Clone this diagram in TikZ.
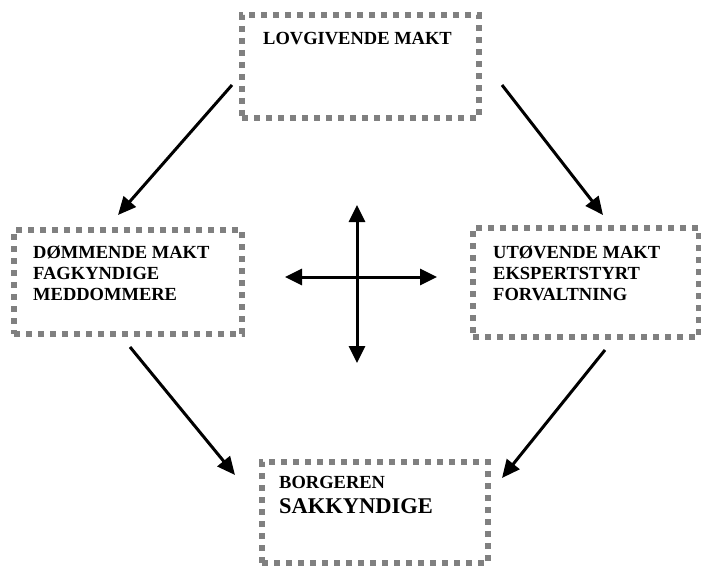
\documentclass[tikz,border=0pt]{standalone}
\usepackage{fontspec}
\setmainfont{Liberation Serif}
\usetikzlibrary{arrows.meta}
\definecolor{dotgray}{RGB}{128,128,128}
\begin{document}
\begin{tikzpicture}[x=1pt,y=-1pt,
  box/.style={draw=dotgray,line width=6pt,dash pattern=on 6pt off 6pt,inner sep=0pt,outer sep=0pt},
  lbl/.style={anchor=base west,inner sep=0pt,font=\bfseries\fontsize{18.5}{21}\selectfont},
  biglbl/.style={anchor=base west,inner sep=0pt,font=\bfseries\fontsize{22.5}{26}\selectfont},
  arr/.style={line width=3pt,-{Triangle[length=18pt,width=16pt]}},
  darr/.style={line width=3pt,{Triangle[length=17pt,width=16pt]}-{Triangle[length=17pt,width=16pt]}}]
\useasboundingbox (0,0) rectangle (701,567);
% boxes
\node[box,minimum width=237pt,minimum height=103pt] (top) at (360.5,66.5) {};
\node[box,minimum width=228pt,minimum height=104pt] (left) at (128,282) {};
\node[box,minimum width=226pt,minimum height=109pt] (right) at (586,282.5) {};
\node[box,minimum width=226pt,minimum height=101pt] (bottom) at (375,512.5) {};
% texts
\node[lbl] (t1) at (263,45) {LOVGIVENDE MAKT};
\node[lbl] (l1) at (33,258.5) {DØMMENDE MAKT};
\node[lbl] (l2) at (33,279.5) {FAGKYNDIGE};
\node[lbl] (l3) at (33,300.5) {MEDDOMMERE};
\node[lbl] (r1) at (493,258.5) {UTØVENDE MAKT};
\node[lbl] (r2) at (493,279.5) {EKSPERTSTYRT};
\node[lbl] (r3) at (493,300.5) {FORVALTNING};
\node[lbl] (b1) at (279,488) {BORGEREN};
\node[biglbl] (b2) at (279,513) {SAKKYNDIGE};
% arrow end points
\coordinate (a1s) at (232,85);
\coordinate (a1e) at (118,215);
\coordinate (a2s) at (502,85);
\coordinate (a2e) at (603,215);
\coordinate (a3s) at (130,347);
\coordinate (a3e) at (235,475);
\coordinate (a4s) at (605,350);
\coordinate (a4e) at (502,478);
\coordinate (vt) at (357,205);
\coordinate (vb) at (357,363);
\coordinate (hl) at (285,277);
\coordinate (hr) at (437,277);
\draw[arr] (a1s) -- (a1e);
\draw[arr] (a2s) -- (a2e);
\draw[arr] (a3s) -- (a3e);
\draw[arr] (a4s) -- (a4e);
\draw[darr] (vt) -- (vb);
\draw[darr] (hl) -- (hr);
\end{tikzpicture}
\end{document}
